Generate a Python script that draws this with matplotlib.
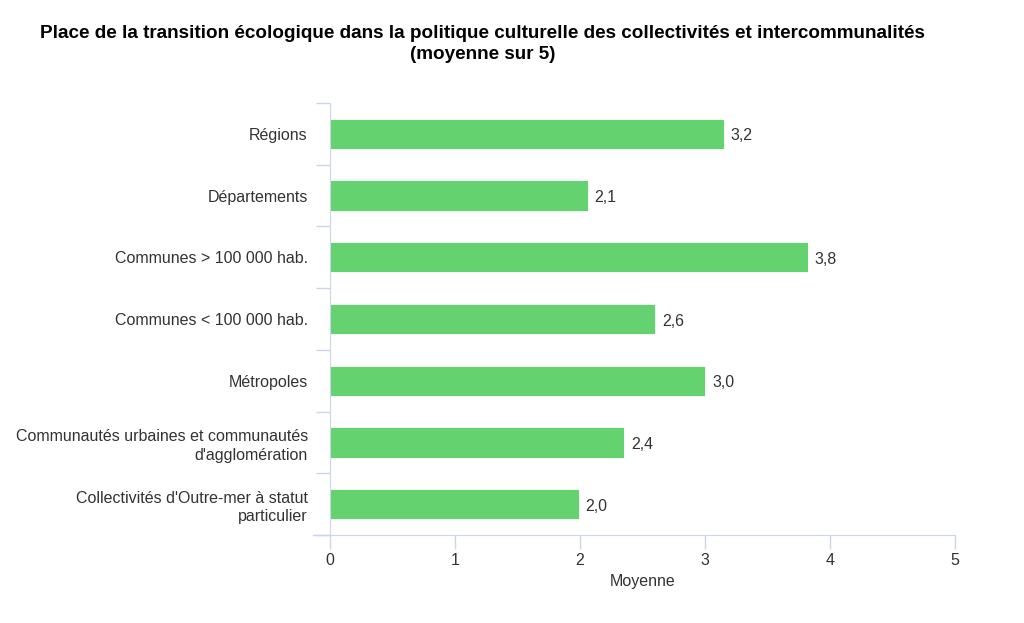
import matplotlib.pyplot as plt
import numpy as np

plt.rcParams['font.family'] = ['Liberation Sans', 'DejaVu Sans']

categories = [
    "Régions",
    "Départements",
    "Communes > 100 000 hab.",
    "Communes < 100 000 hab.",
    "Métropoles",
    "Communautés urbaines et communautés\nd'agglomération",
    "Collectivités d'Outre-mer à statut\nparticulier",
]
values = [3.15, 2.06, 3.82, 2.6, 3.0, 2.35, 1.99]
value_labels = ["3,2", "2,1", "3,8", "2,6", "3,0", "2,4", "2,0"]
xticks = [0, 1, 2, 3, 4, 5]

axis_col = "#ccd6eb"
bar_col = "#63d26f"
text_col = "#333333"

fig = plt.figure(figsize=(10.24, 6.23), dpi=100)
ax = fig.add_axes([0.3223, 0.1413, 0.6104, 0.6934])

y = np.arange(len(categories))
ax.barh(y, values, height=0.49, color=bar_col, edgecolor="white", linewidth=0.6)
ax.set_ylim(len(categories) - 0.5, -0.5)
ax.set_xlim(0, 5)

for yi, v, lab in zip(y, values, value_labels):
    ax.annotate(lab, (v, yi), xytext=(5, -1.5), textcoords="offset points",
                va="center", ha="left", fontsize=11.5, color=text_col)

ax.set_yticks(y)
ax.set_yticklabels(categories, fontsize=11.5, color=text_col, linespacing=1.3)
for t in ax.get_yticklabels():
    t.set_verticalalignment("center_baseline")
ax.set_yticks(np.arange(-0.5, len(categories), 1), minor=True)
ax.tick_params(axis="y", which="major", length=0, pad=16)
ax.tick_params(axis="y", which="minor", length=10, color=axis_col, width=1)

ax.set_xticks(xticks)
ax.set_xticklabels([str(t) for t in xticks], fontsize=11.5, color=text_col)
ax.tick_params(axis="x", length=10, color=axis_col, width=1, pad=3)
ax.set_xlabel("Moyenne", fontsize=11.5, color=text_col, labelpad=4)

for s in ["top", "right"]:
    ax.spines[s].set_visible(False)
ax.spines["left"].set_color(axis_col)
ax.spines["bottom"].set_color(axis_col)
ax.plot([-0.027, 0], [0, 0], transform=ax.transAxes, color=axis_col,
        lw=1, clip_on=False)

fig.text(0.471, 0.929,
         "Place de la transition écologique dans la politique culturelle des collectivités et intercommunalités\n(moyenne sur 5)",
         ha="center", va="center", fontsize=13.6, fontweight="bold",
         color="black", linespacing=1.3)

fig.savefig("out.png", dpi=100, facecolor="white")
